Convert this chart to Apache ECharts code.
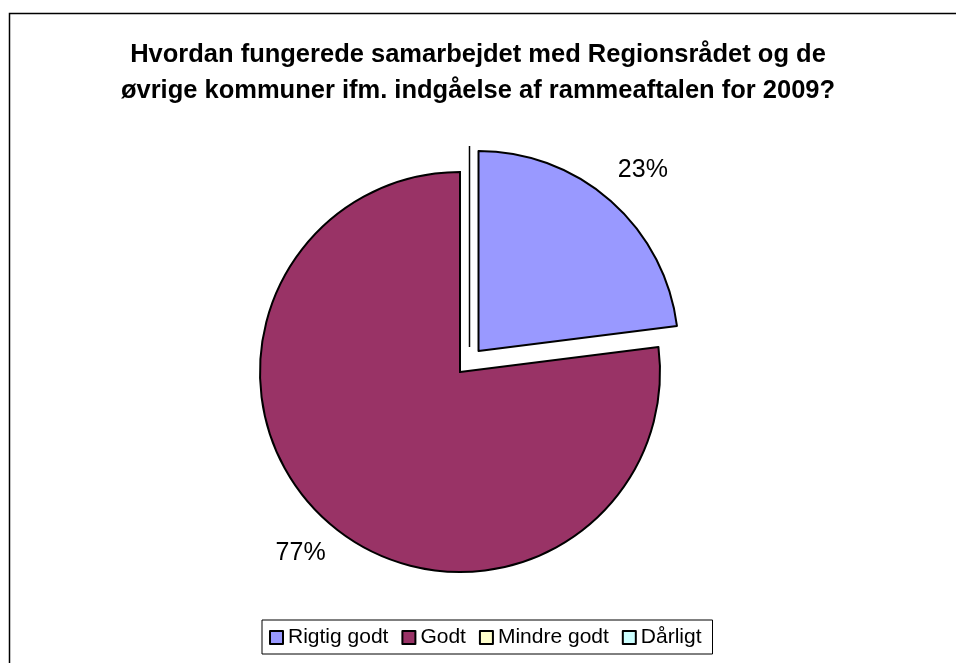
<!DOCTYPE html>
<html>
<head>
<meta charset="utf-8">
<script src="https://cdn.jsdelivr.net/npm/echarts@6/dist/echarts.min.js"></script>
<style>
  html, body { margin: 0; padding: 0; background: #fff; }
  #chart { width: 956px; height: 663px; }
</style>
</head>
<body>
<div id="chart"></div>
<script>
// data
var categories = ['Rigtig godt', 'Godt', 'Mindre godt', 'Dårligt'];
var values = [23, 77, 0, 0];
var colors = ['#9999FF', '#993366', '#FFFFCC', '#CCFFFF'];

var myChart = echarts.init(document.getElementById('chart'));

var pieData = categories.map(function (name, i) {
  return {
    name: name,
    value: values[i],
    selected: i === 0,
    itemStyle: { color: colors[i] }
  };
});

var option = {
  backgroundColor: '#fff',
  animation: false,
  title: {
    text: 'Hvordan fungerede samarbejdet med Regionsrådet og de\nøvrige kommuner ifm. indgåelse af rammeaftalen for 2009?',
    left: 'center',
    top: 32,
    textStyle: {
      fontFamily: 'Liberation Sans, Arial',
      fontWeight: 'bold',
      fontSize: 25.5,
      lineHeight: 36,
      color: '#000'
    }
  },
  // kantlinje rundt om diagrammet + den lodrette streg ved udtrukket stykke
  graphic: [{
    type: 'rect',
    shape: { x: 9.5, y: 13.5, width: 1000, height: 700 },
    style: { fill: 'none', stroke: '#000', lineWidth: 1.5 }
  }, {
    type: 'line',
    shape: { x1: 469.5, y1: 146, x2: 469.5, y2: 347 },
    style: { stroke: '#000', lineWidth: 1.5 }
  }],
  legend: {
    data: categories,
    left: 262,
    top: 620,
    orient: 'horizontal',
    icon: 'rect',
    itemWidth: 13,
    itemHeight: 13,
    itemGap: 13,
    padding: [7, 11, 6, 7],
    borderColor: '#000',
    borderWidth: 1,
    selectedMode: false,
    itemStyle: { borderColor: '#000', borderWidth: 2 },
    textStyle: {
      fontFamily: 'Liberation Sans, Arial',
      fontSize: 21,
      color: '#000'
    }
  },
  series: [{
    name: 'Samarbejde',
    type: 'pie',
    center: [460, 372],
    radius: 200,
    startAngle: 90,
    clockwise: true,
    selectedMode: 'single',
    selectedOffset: 28,
    avoidLabelOverlap: false,
    itemStyle: { borderColor: '#000', borderWidth: 2 },
    emphasis: { disabled: true },
    label: {
      position: 'outside',
      fontFamily: 'Liberation Sans, Arial',
      fontSize: 25,
      color: '#000',
      formatter: function (p) {
        return p.value > 0 ? p.percent.toFixed(0) + '%' : '';
      }
    },
    labelLine: { show: false, length: 41, length2: 0 },
    // centrer procent-teksten på radiallinjen
    labelLayout: function (params) {
      var pts = params.labelLinePoints;
      if (!pts) return {};
      return {
        x: pts[2][0],
        y: pts[2][1],
        align: 'center',
        verticalAlign: 'middle'
      };
    },
    data: pieData
  }]
};

myChart.setOption(option);
</script>
</body>
</html>
